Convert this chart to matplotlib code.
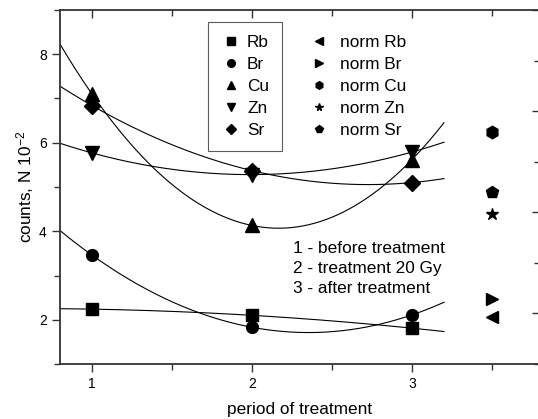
import numpy as np
import matplotlib
matplotlib.use('Agg')
import matplotlib.pyplot as plt
from matplotlib.lines import Line2D
from matplotlib.ticker import MultipleLocator, NullFormatter

plt.rcParams['font.family'] = ['Liberation Sans', 'DejaVu Sans']
plt.rcParams['mathtext.default'] = 'regular'

period = [1, 2, 3]
rb = [2.24, 2.10, 1.81]
br = [3.46, 1.83, 2.11]
cu = [7.10, 4.13, 5.62]
zn = [5.77, 5.28, 5.79]
sr = [6.84, 5.37, 5.10]

norm_x = 3.5
norm_rb = 2.07
norm_br = 2.47
norm_cu = 6.25
norm_zn = 4.38
norm_sr = 4.88

W, H = 538, 419
fig = plt.figure(figsize=(W / 100, H / 100), dpi=100)
ax = fig.add_axes([60 / W, 1 - 364 / H, 480 / W, 354 / H])

series = [(rb, 's', 8), (br, 'o', 8.5), (cu, '^', 10), (zn, 'v', 10), (sr, 'D', 8)]
xs = np.linspace(0.8, 3.2, 200)
for ys, m, ms in series:
    p = np.polyfit(period, ys, 2)
    ax.plot(xs, np.polyval(p, xs), color='black', lw=0.8)
    ax.plot(period, ys, ls='none', marker=m, ms=ms, color='black')

ax.plot(norm_x, norm_cu, 'h', ms=9, color='black')
ax.plot(norm_x, norm_sr, 'p', ms=9, color='black')
ax.plot(norm_x, norm_zn, '*', ms=9, color='black')
ax.plot(norm_x, norm_br, '>', ms=9, color='black')
ax.plot(norm_x, norm_rb, '<', ms=9, color='black')

ax.set_xlim(0.8, 3.8)
ax.set_ylim(1, 9)
ax.yaxis.set_major_locator(MultipleLocator(2))
ax.yaxis.set_minor_locator(MultipleLocator(1))
ax.set_xticks([1, 2, 3])
ax.set_xticks([1.5, 2.5, 3.5], minor=True)
ax.tick_params(which='both', direction='out', top=False, right=False,
               labelsize=10, width=1, color='#333333')
ax.tick_params(which='major', length=6)
ax.tick_params(which='minor', length=4)
for s in ax.spines.values():
    s.set_linewidth(1.3)
    s.set_color('#333333')

# top and right ticks (inward, no labels)
top = ax.secondary_xaxis('top')
top.set_xticks([1, 2, 3])
top.set_xticks([1.5, 2.5, 3.5], minor=True)
top.tick_params(which='both', direction='in', labeltop=False, color='#333333', width=1)
top.tick_params(which='major', length=6)
top.tick_params(which='minor', length=4)
top.spines['top'].set_visible(False)

ax2 = ax.twinx()
ax2.set_ylim(0.5, 4.0)
ax2.yaxis.set_major_locator(MultipleLocator(1))
ax2.yaxis.set_minor_locator(MultipleLocator(0.5))
ax2.yaxis.set_major_formatter(NullFormatter())
ax2.tick_params(which='both', direction='in', color='#333333', width=1)
ax2.tick_params(which='major', length=6)
ax2.tick_params(which='minor', length=4)
for s in ax2.spines.values():
    s.set_visible(False)

ax.set_xlabel('period of treatment', fontsize=12.4, labelpad=8)
ax.set_ylabel('counts, N 10$^{-2}$', fontsize=12.4, labelpad=2)

h1 = [Line2D([], [], ls='none', marker=m, ms=5.5, color='black') for m in ['s', 'o', '^', 'v', 'D']]
leg1 = ax.legend(h1, ['Rb', 'Br', 'Cu', 'Zn', 'Sr'], loc='upper left',
                 bbox_to_anchor=(207.5 / W, 1 - 22 / H), bbox_transform=fig.transFigure,
                 borderaxespad=0, fontsize=12.4, frameon=True, fancybox=False,
                 edgecolor='#333333', handlelength=1.2, handletextpad=0.35,
                 labelspacing=0.4, borderpad=0.75)
leg1.get_frame().set_linewidth(0.8)

h2 = [Line2D([], [], ls='none', marker=m, ms=5.5, color='black') for m in ['<', '>', 'h', '*', 'p']]
leg2 = ax2.legend(h2, ['norm Rb', 'norm Br', 'norm Cu', 'norm Zn', 'norm Sr'], loc='upper left',
                  bbox_to_anchor=(297.5 / W, 1 - 22 / H), bbox_transform=fig.transFigure,
                  borderaxespad=0, fontsize=12.4, frameon=False,
                  handlelength=1.0, handletextpad=0.72, labelspacing=0.4, borderpad=0.75)

fig.text(293 / W, 1 - 268.5 / H, '1 - before treatment\n2 - treatment 20 Gy\n3 - after treatment',
         fontsize=12.4, va='center', ha='left', linespacing=1.42)

fig.savefig('out.png', dpi=100)
